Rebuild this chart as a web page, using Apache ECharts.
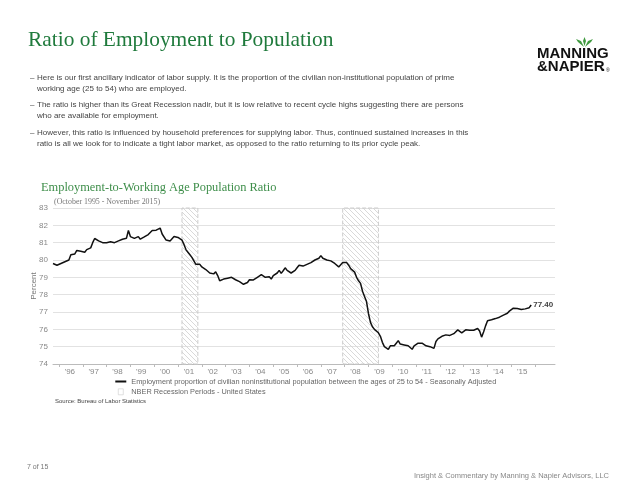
<!DOCTYPE html>
<html><head><meta charset="utf-8">
<script src="https://cdn.jsdelivr.net/npm/echarts@6/dist/echarts.min.js"></script>
<style>html,body{margin:0;padding:0;background:#fff}#c{width:640px;height:495px}</style>
</head><body><div id="c"></div>
<script>
// ---- data (monthly, Oct 1995 - Nov 2015) ----
const y1995 = [79.8, 79.7, 79.7]; // Oct-Dec
const y1996 = [79.7, 79.8, 79.85, 79.9, 79.9, 80.0, 80.3, 80.4, 80.35, 80.55, 80.5, 80.5];
const y1997 = [80.5, 80.45, 80.6, 80.6, 80.7, 81.0, 81.24, 81.15, 81.1, 81.0, 81.0, 81.0];
const y1998 = [81.0, 81.0, 81.05, 81.0, 81.0, 81.05, 81.1, 81.2, 81.2, 81.1, 81.25, 81.7];
const y1999 = [81.35, 81.3, 81.25, 81.35, 81.35, 81.2, 81.2, 81.33, 81.4, 81.47, 81.5, 81.7];
const y2000 = [81.7, 81.72, 81.8, 81.84, 81.5, 81.43, 81.15, 81.1, 81.1, 81.2, 81.35, 81.35];
const y2001 = [81.3, 81.25, 81.15, 80.9, 80.6, 80.45, 80.3, 80.15, 80.05, 79.75, 79.7, 79.75];
const y2002 = [79.6, 79.5, 79.45, 79.35, 79.25, 79.15, 79.2, 79.32, 79.1, 78.8, 78.9, 78.9];
const y2003 = [78.9, 78.95, 79.0, 79.0, 78.9, 78.86, 78.8, 78.75, 78.65, 78.6, 78.65, 78.7];
const y2004 = [78.86, 78.78, 78.85, 78.9, 79.0, 79.1, 79.15, 79.05, 79.0, 79.0, 79.03, 78.9];
const y2005 = [79.1, 79.2, 79.25, 79.4, 79.23, 79.38, 79.55, 79.4, 79.3, 79.25, 79.3, 79.4];
const y2006 = [79.55, 79.7, 79.6, 79.65, 79.7, 79.75, 79.8, 79.85, 79.95, 80.0, 80.05, 80.1];
const y2007 = [80.25, 80.1, 80.05, 80.0, 79.97, 79.95, 79.85, 79.8, 79.7, 79.6, 79.7, 79.85];
const y2008 = [79.95, 79.85, 79.7, 79.5, 79.4, 79.3, 79.0, 78.8, 78.65, 78.2, 77.9, 77.6];
const y2009 = [76.9, 76.4, 76.15, 76.0, 75.95, 75.8, 75.6, 75.25, 75.0, 75.1, 74.85, 75.05];
const y2010 = [75.0, 75.05, 75.2, 75.35, 75.15, 75.1, 75.1, 75.0, 75.05, 75.0, 74.85, 75.05];
const y2011 = [75.15, 75.2, 75.1, 75.2, 75.15, 75.05, 75.1, 75.0, 74.9, 74.9, 75.3, 75.45];
const y2012 = [75.55, 75.6, 75.65, 75.68, 75.65, 75.65, 75.68, 75.75, 75.85, 75.97, 75.88, 75.8];
const y2013 = [75.9, 75.97, 75.95, 75.95, 75.97, 75.95, 76.0, 76.05, 75.9, 75.55, 75.85, 76.2];
const y2014 = [76.5, 76.52, 76.55, 76.45, 76.62, 76.6, 76.7, 76.8, 76.82, 76.87, 76.93, 77.05];
const y2015 = [77.12, 77.22, 77.2, 77.2, 77.2, 77.15, 77.12, 77.18, 77.2, 77.25, 77.4]; // Jan-Nov

const recessions = [['2001-03', '2001-11'], ['2007-12', '2009-06']];
const yearLabels = ["'96","'97","'98","'99","'00","'01","'02","'03","'04","'05","'06","'07","'08","'09","'10","'11","'12","'13","'14","'15"];
const firstLabelYear = 1996;
const axisStart = [1995, 10], axisEnd = [2016, 11];

const lineName = 'Employment proportion of civilian noninstitutional population between the ages of 25 to 54 - Seasonally Adjusted';
const recName = 'NBER Recession Periods - United States';

const values = [].concat(y1995, y1996, y1997, y1998, y1999, y2000, y2001, y2002, y2003, y2004,
  y2005, y2006, y2007, y2008, y2009, y2010, y2011, y2012, y2013, y2014, y2015);

// month categories along the axis
const months = [];
for (let y = axisStart[0], m = axisStart[1]; y < axisEnd[0] || (y === axisEnd[0] && m <= axisEnd[1]); ) {
  months.push(y + '-' + (m < 10 ? '0' + m : m));
  m++; if (m > 12) { m = 1; y++; }
}
function yearIdx(v) { return +v.slice(0, 4) - firstLabelYear; }

// hatch pattern
const pc = document.createElement('canvas');
pc.width = 5; pc.height = 5;
const g = pc.getContext('2d');
g.strokeStyle = '#cfcfcf'; g.lineWidth = 0.8;
g.beginPath();
g.moveTo(0, 0); g.lineTo(5, 5);
g.moveTo(-1, 4); g.lineTo(1, 6);
g.moveTo(4, -1); g.lineTo(6, 1);
g.stroke();
const hatch = { image: pc, repeat: 'repeat' };

const chart = echarts.init(document.getElementById('c'), null, { renderer: 'canvas' });

const bullets = [
  ['– ', 'Here is our first ancillary indicator of labor supply. It is the proportion of the civilian non-institutional population of prime', 78],
  ['', 'working age (25 to 54) who are employed.', 89],
  ['– ', 'The ratio is higher than its Great Recession nadir, but it is low relative to recent cycle highs suggesting there are persons', 105],
  ['', 'who are available for employment.', 116],
  ['– ', 'However, this ratio is influenced by household preferences for supplying labor. Thus, continued sustained increases in this', 133],
  ['', 'ratio is all we look for to indicate a tight labor market, as opposed to the ratio returning to its prior cycle peak.', 144]
];
const graphics = [];
graphics.push({ type: 'text', style: { text: 'Ratio of Employment to Population', x: 28, y: 40, verticalAlign: 'middle',
  font: '21.4px "Liberation Serif"', fill: '#1f7a3c' } });
bullets.forEach(b => {
  if (b[0]) graphics.push({ type: 'text', style: { text: '–', x: 30, y: b[2], verticalAlign: 'middle', font: '8px "Liberation Sans"', fill: '#444' } });
  graphics.push({ type: 'text', style: { text: b[1], x: 37, y: b[2], verticalAlign: 'middle', font: '8px "Liberation Sans"', fill: '#444' } });
});
// logo
graphics.push({ type: 'text', style: { text: 'MANNING', x: 537, y: 54, verticalAlign: 'middle', font: 'bold 15px "Liberation Sans"', fill: '#111' } });
graphics.push({ type: 'text', style: { text: '&NAPIER', x: 537, y: 67, verticalAlign: 'middle', font: 'bold 15px "Liberation Sans"', fill: '#111' } });
graphics.push({ type: 'text', style: { text: '.', x: 601, y: 67, verticalAlign: 'middle', font: 'bold 15px "Liberation Sans"', fill: '#111' } });
graphics.push({ type: 'text', style: { text: '®', x: 606, y: 71, verticalAlign: 'middle', font: '5px "Liberation Sans"', fill: '#111' } });
graphics.push({ type: 'polygon', shape: { points: [[584, 47], [578, 42], [576, 39], [581, 41]] }, style: { fill: '#3f9a3f' } });
graphics.push({ type: 'polygon', shape: { points: [[585, 47], [591, 42], [593, 39], [588, 41]] }, style: { fill: '#3f9a3f' } });
graphics.push({ type: 'polygon', shape: { points: [[584.5, 46], [583, 41], [584.5, 37], [586, 41]] }, style: { fill: '#3f9a3f' } });
// chart titles
graphics.push({ type: 'text', style: { text: 'Employment-to-Working Age Population Ratio', x: 41, y: 188, verticalAlign: 'middle',
  font: '12.4px "Liberation Serif"', fill: '#3e8e4a' } });
graphics.push({ type: 'text', style: { text: '(October 1995 - November 2015)', x: 54, y: 202, verticalAlign: 'middle',
  font: '7.9px "Liberation Serif"', fill: '#777' } });
graphics.push({ type: 'text', style: { text: 'Source: Bureau of Labor Statistics', x: 55, y: 401, verticalAlign: 'middle',
  font: '6px "Liberation Sans"', fill: '#444' } });
graphics.push({ type: 'text', style: { text: '7 of 15', x: 27, y: 467, verticalAlign: 'middle',
  font: '7px "Liberation Sans"', fill: '#777' } });
graphics.push({ type: 'text', style: { text: 'Insight & Commentary by Manning & Napier Advisors, LLC', x: 609, y: 476, align: 'right', verticalAlign: 'middle',
  font: '7.5px "Liberation Sans"', fill: '#888' } });

chart.setOption({
  animation: false,
  textStyle: { fontFamily: 'Liberation Sans' },
  grid: { left: 53, right: 85, top: 208, bottom: 131, containLabel: false },
  legend: {
    left: 115, top: 378, orient: 'vertical', itemWidth: 11, itemHeight: 7, itemGap: 3, padding: 0,
    textStyle: { fontSize: 7.35, color: '#666' },
    data: [
      { name: lineName, icon: 'path://M0,2.6h11v1.8h-11z M0,0h0.01v0.01h-0.01z M11,7h0.01v0.01h-0.01z',
        itemStyle: { color: '#111', borderWidth: 0 } },
      { name: recName, icon: 'path://M3,0.5h5v6h-5z M0,0h0.01v0.01h-0.01z M11,7h0.01v0.01h-0.01z',
        itemStyle: { color: '#fff', borderColor: '#ccc', borderWidth: 0.6 } }
    ]
  },
  xAxis: {
    type: 'category', data: months, boundaryGap: false,
    axisLine: { lineStyle: { color: '#bbb', width: 1 } },
    axisTick: { show: true, length: 3, lineStyle: { color: '#bbb' },
      interval: (i, v) => v.endsWith('-01') },
    axisLabel: { interval: (i, v) => v.endsWith('-07') && yearIdx(v) >= 0 && yearIdx(v) < yearLabels.length,
      formatter: v => yearLabels[yearIdx(v)], fontSize: 8, color: '#888', margin: 4, padding: [0, 2, 0, 0] },
    splitLine: { show: false }
  },
  yAxis: {
    type: 'value', min: 74, max: 83, interval: 1,
    name: 'Percent', nameLocation: 'middle', nameGap: 15, nameMoveOverlap: false,
    nameTextStyle: { fontSize: 8, color: '#777' },
    axisLine: { show: false }, axisTick: { show: false },
    axisLabel: { fontSize: 8, color: '#888', margin: 5 },
    splitLine: { lineStyle: { color: '#e2e2e2', width: 1.2 } }
  },
  series: [
    {
      name: lineName, type: 'line', data: values, symbol: 'none', showSymbol: false,
      lineStyle: { color: '#111', width: 1.5 }, itemStyle: { color: '#111' },
      endLabel: { show: true, formatter: p => p.value.toFixed(2), fontSize: 8, fontWeight: 'bold', color: '#444', distance: 2 },
      markArea: {
        silent: true,
        itemStyle: { color: hatch, borderColor: '#ccc', borderWidth: 1, borderType: 'dashed' },
        data: recessions.map(r => [{ xAxis: r[0] }, { xAxis: r[1] }])
      },
      z: 3
    },
    { name: recName, type: 'line', data: [], itemStyle: { color: '#fff' } }
  ],
  graphic: graphics
});
</script></body></html>
